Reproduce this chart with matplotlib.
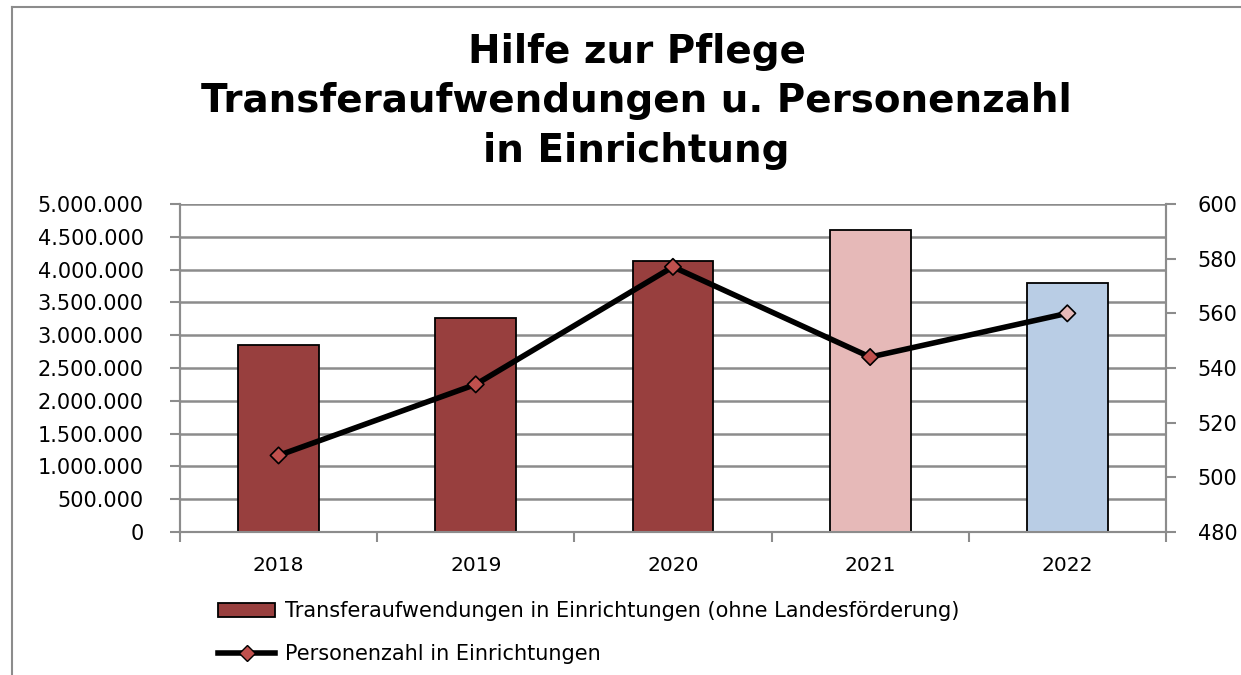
import numpy as np
import matplotlib.pyplot as plt
from matplotlib.lines import Line2D
from matplotlib.patches import Patch
from matplotlib.ticker import FuncFormatter

# Data
years = ['2018', '2019', '2020', '2021', '2022']
transfer = [2850000, 3260000, 4130000, 4600000, 3790000]
persons = [508, 534, 577, 544, 560]

bar_colors = ['#983f3e', '#983f3e', '#983f3e', '#e6b9b8', '#b9cde5']
marker_colors = ['#c0504d', '#c0504d', '#c0504d', '#c0504d', '#e6b9b8']

fig = plt.figure(figsize=(12.41, 6.75), dpi=100)
ax = fig.add_axes([0.145, 0.2119, 0.7945, 0.4859])
ax2 = ax.twinx()

x = np.arange(len(years))

# Bars (left axis)
ax.bar(x, transfer, width=0.41, color=bar_colors, edgecolor='black', linewidth=1.3, zorder=3)
ax.set_ylim(0, 5000000)
ax.set_yticks(np.arange(0, 5000001, 500000))
ax.yaxis.set_major_formatter(FuncFormatter(lambda v, p: f'{int(v):,}'.replace(',', '.')))
ax.yaxis.grid(True, color='#8c8c8c', linewidth=1.8, zorder=0)
ax.set_axisbelow(True)
ax.set_xlim(-0.5, len(years) - 0.5)
ax.set_xticks(x)
ax.set_xticklabels(years)
ax.set_xticks(np.arange(-0.5, len(years), 1), minor=True)
ax.tick_params(axis='x', which='major', length=0, pad=17, labelsize=14.5)
ax.tick_params(axis='x', which='minor', length=7, width=1.5, color='#8c8c8c')
ax.tick_params(axis='y', length=7, width=1.5, color='#8c8c8c', labelsize=15, pad=19)

# Line (right axis)
ax2.plot(x, persons, color='black', linewidth=4, zorder=4)
ax2.scatter(x, persons, marker='D', s=70, c=marker_colors, edgecolors='black', linewidths=1.2, zorder=5)
ax2.set_ylim(480, 600)
ax2.set_yticks(np.arange(480, 601, 20))
ax2.tick_params(axis='y', length=7, width=1.5, color='#8c8c8c', labelsize=15, pad=16)

for a in (ax, ax2):
    for s in a.spines.values():
        s.set_color('#8c8c8c')
        s.set_linewidth(1.5)
    a.spines['top'].set_visible(False)

fig.suptitle('Hilfe zur Pflege\nTransferaufwendungen u. Personenzahl\nin Einrichtung',
             x=0.513, y=0.951, fontsize=28, fontweight='bold', linespacing=1.38, va='top')

# Legend
handles = [
    Patch(facecolor='#983f3e', edgecolor='black', linewidth=1.3),
    Line2D([], [], color='black', linewidth=4, marker='D', markersize=8,
           markerfacecolor='#c0504d', markeredgecolor='black'),
]
labels = ['Transferaufwendungen in Einrichtungen (ohne Landesförderung)',
          'Personenzahl in Einrichtungen']
fig.legend(handles, labels, loc='upper left', bbox_to_anchor=(0.1757, 0.109),
           frameon=False, fontsize=15, handlelength=2.74, handleheight=0.6,
           handletextpad=0.45, labelspacing=1.08, borderaxespad=0, borderpad=0)

# Outer frame (left and top edge visible)
fig.add_artist(Line2D([0.0097, 0.0097], [0, 0.9896], transform=fig.transFigure, color='#8c8c8c', linewidth=1.5))
fig.add_artist(Line2D([0.0097, 1.0], [0.9896, 0.9896], transform=fig.transFigure, color='#8c8c8c', linewidth=1.5))

fig.savefig('out.png', dpi=100)
